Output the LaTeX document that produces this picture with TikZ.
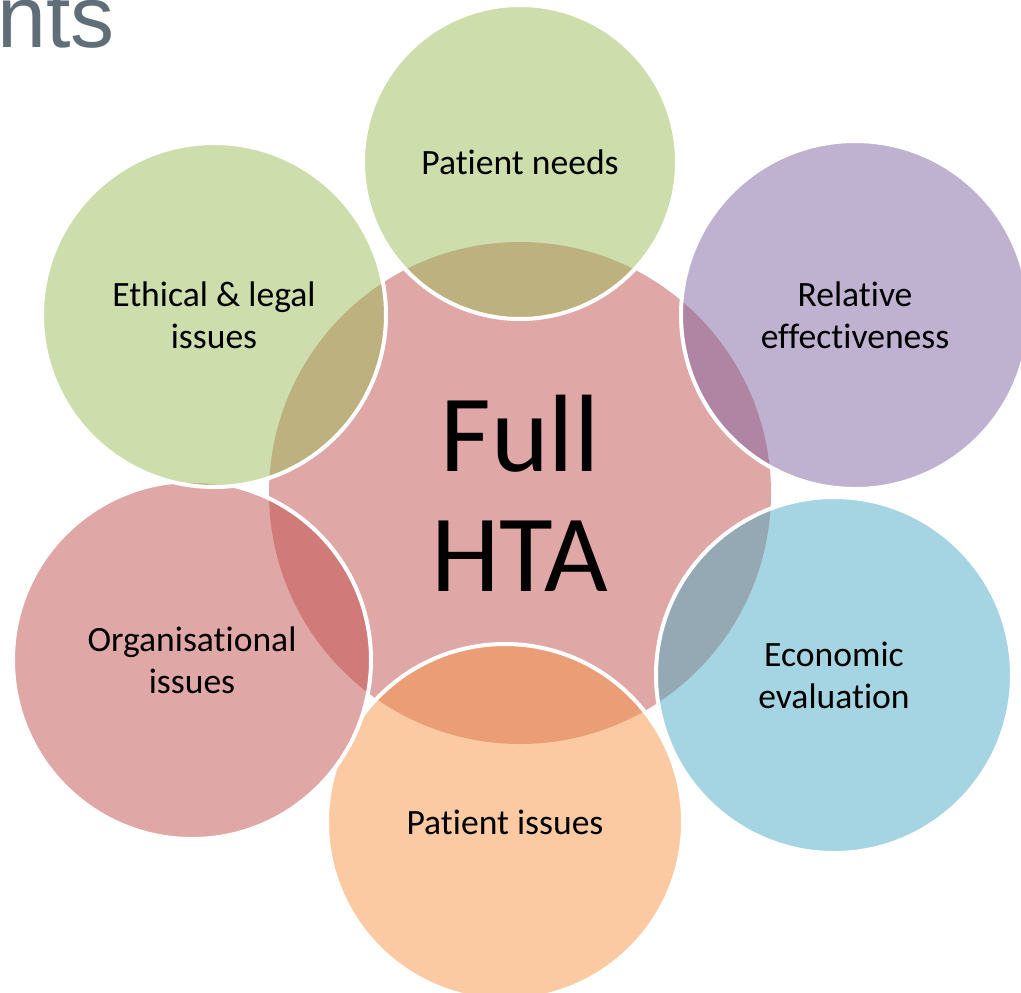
\documentclass[tikz,border=0pt]{standalone}
\usepackage{fontspec}
\setmainfont{Carlito}[RawFeature={-liga;-clig;-calt;-dlig}]
\newfontfamily\titlefont{Liberation Sans}
\definecolor{hubred}{HTML}{C0504D}
\definecolor{petalgreen}{HTML}{9BBB59}
\definecolor{petalpurple}{HTML}{8064A2}
\definecolor{petalblue}{HTML}{4BACC6}
\definecolor{petalorange}{HTML}{F79646}
\definecolor{titlegray}{HTML}{606E78}
\begin{document}
\begin{tikzpicture}[x=0.5pt,y=-0.5pt]
\tikzstyle{hub}=[circle,inner sep=0pt,fill=hubred,fill opacity=0.5,text opacity=1,align=center,font=\fontsize{55}{60}\selectfont]
\tikzstyle{petal}=[circle,inner sep=0pt,draw=white,line width=2pt,fill opacity=0.5,text opacity=1,align=center,font=\fontsize{17.8}{21}\selectfont]
\useasboundingbox (0,0) rectangle (1021,992);
\node[anchor=base west,inner sep=0pt,text=titlegray,font=\titlefont\fontsize{44}{50}\selectfont] (title) at (-3,47) {nts};
% centre
\node[hub,minimum size=251pt] (hta) at (520,493) {Full\\HTA};
% petals
\node[petal,fill=petalgreen,minimum size=157pt] (needs) at (520,162) {Patient needs};
\node[petal,fill=petalpurple,minimum size=174pt] (releff) at (855,315) {Relative\\effectiveness};
\node[petal,fill=petalblue,minimum size=178pt] (econ) at (834,675) {Economic\\evaluation};
\node[petal,fill=petalorange,minimum size=178pt] (issues) at (505,822) {Patient issues};
\node[petal,fill=hubred,minimum size=179pt] (organ) at (192,660) {Organisational\\issues};
\node[petal,fill=petalgreen,minimum size=172pt] (ethic) at (214,315) {Ethical \& legal\\issues};
\end{tikzpicture}
\end{document}
